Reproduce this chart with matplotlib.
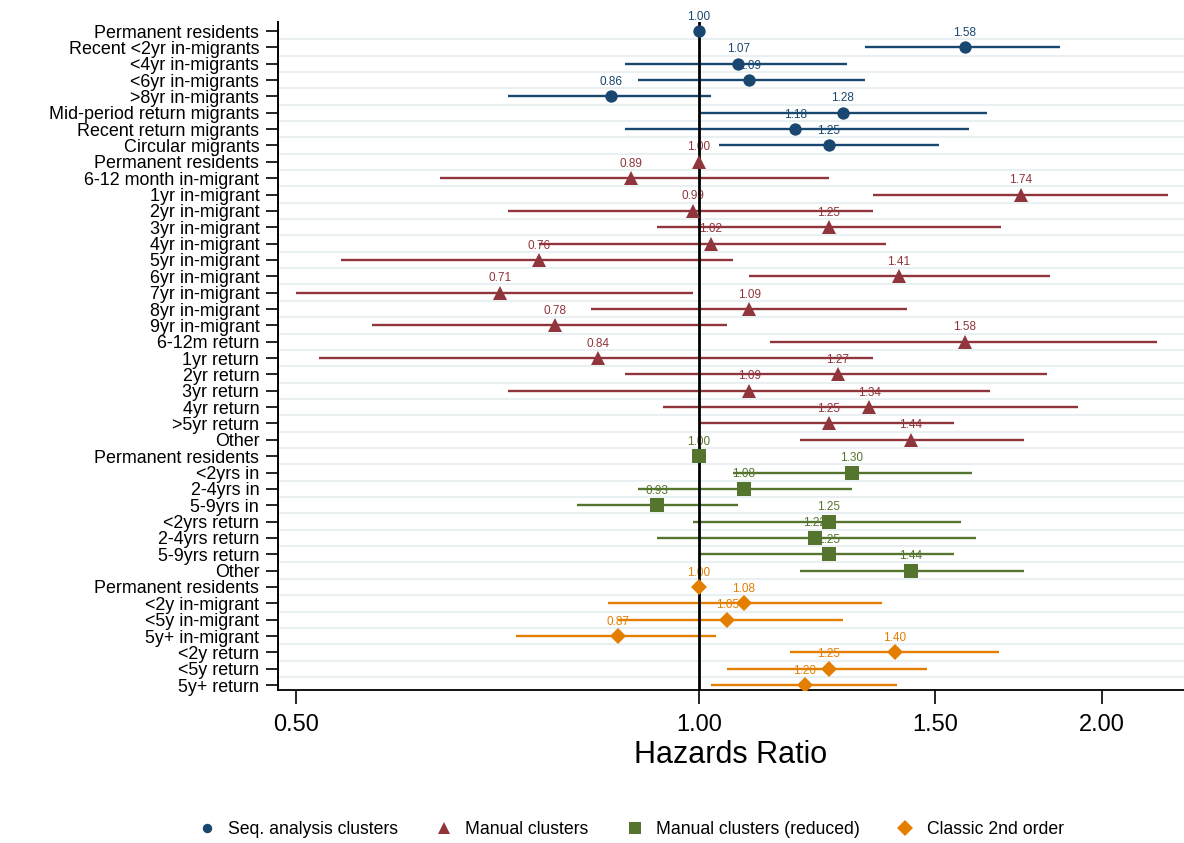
import numpy as np
import matplotlib
matplotlib.use('Agg')
import matplotlib.pyplot as plt
from matplotlib.lines import Line2D
from matplotlib.ticker import NullLocator, FixedLocator

plt.rcParams['font.family'] = ['Liberation Sans', 'DejaVu Sans']

nan = np.nan

# ---- Data ----
labels_seq = ["Permanent residents", "Recent <2yr in-migrants", "<4yr in-migrants",
              "<6yr in-migrants", ">8yr in-migrants", "Mid-period return migrants",
              "Recent return migrants", "Circular migrants"]
hr_seq = [1.00, 1.58, 1.07, 1.09, 0.86, 1.28, 1.18, 1.25]
lo_seq = [nan, 1.33, 0.88, 0.90, 0.72, 1.00, 0.88, 1.035]
hi_seq = [nan, 1.86, 1.29, 1.33, 1.02, 1.64, 1.59, 1.51]

labels_man = ["Permanent residents", "6-12 month in-migrant", "1yr in-migrant", "2yr in-migrant",
              "3yr in-migrant", "4yr in-migrant", "5yr in-migrant", "6yr in-migrant",
              "7yr in-migrant", "8yr in-migrant", "9yr in-migrant", "6-12m return",
              "1yr return", "2yr return", "3yr return", "4yr return", ">5yr return", "Other"]
hr_man = [1.00, 0.89, 1.74, 0.99, 1.25, 1.02, 0.76, 1.41, 0.71, 1.09, 0.78, 1.58,
          0.84, 1.27, 1.09, 1.34, 1.25, 1.44]
lo_man = [nan, 0.64, 1.35, 0.72, 0.93, 0.76, 0.54, 1.09, 0.50, 0.83, 0.57, 1.13,
          0.52, 0.88, 0.72, 0.94, 1.00, 1.19]
hi_man = [nan, 1.25, 2.24, 1.35, 1.68, 1.38, 1.06, 1.83, 0.99, 1.43, 1.05, 2.20,
          1.35, 1.82, 1.65, 1.92, 1.55, 1.75]

labels_red = ["Permanent residents", "<2yrs in", "2-4yrs in", "5-9yrs in",
              "<2yrs return", "2-4yrs return", "5-9yrs return", "Other"]
hr_red = [1.00, 1.30, 1.08, 0.93, 1.25, 1.22, 1.25, 1.44]
lo_red = [nan, 1.06, 0.90, 0.81, 0.99, 0.93, 1.00, 1.19]
hi_red = [nan, 1.60, 1.30, 1.07, 1.57, 1.61, 1.55, 1.75]

labels_cls = ["Permanent residents", "<2y in-migrant", "<5y in-migrant", "5y+ in-migrant",
              "<2y return", "<5y return", "5y+ return"]
hr_cls = [1.00, 1.08, 1.05, 0.87, 1.40, 1.25, 1.20]
lo_cls = [nan, 0.855, 0.87, 0.73, 1.17, 1.05, 1.02]
hi_cls = [nan, 1.37, 1.28, 1.03, 1.675, 1.48, 1.405]

series_names = ["Seq. analysis clusters", "Manual clusters", "Manual clusters (reduced)", "Classic 2nd order"]
x_ticks = [0.5, 1.0, 1.5, 2.0]
x_ticklabels = ["0.50", "1.00", "1.50", "2.00"]

# ---- Styles ----
colors = ['#1a476f', '#90353b', '#55752f', '#e37e00']
markers = ['o', '^', 's', 'D']
msizes = [8.9, 9.6, 9.4, 8.5]

groups = [(labels_seq, hr_seq, lo_seq, hi_seq),
          (labels_man, hr_man, lo_man, hi_man),
          (labels_red, hr_red, lo_red, hi_red),
          (labels_cls, hr_cls, lo_cls, hi_cls)]

fig = plt.figure(figsize=(11.84, 8.43), dpi=100)
ax = fig.add_axes([278/1184, 1-690/843, 1-278/1184, (690-21.7)/843])
ax.set_xscale('log', base=2)

all_labels = []
y0 = 0
for gi, (labs, hr, lo, hi) in enumerate(groups):
    c = colors[gi]
    ys = np.arange(y0, y0 + len(labs))
    for y, l, u in zip(ys, lo, hi):
        if not (np.isnan(l) or np.isnan(u)):
            ax.plot([l, u], [y, y], color=c, lw=1.7, zorder=3, solid_capstyle='butt')
    ax.plot(hr, ys, ls='none', marker=markers[gi], ms=msizes[gi], color=c, mec=c, mew=0, zorder=6)
    for y, h in zip(ys, hr):
        ax.annotate(f"{h:.2f}", (h, y), xytext=(0, 10.4), textcoords='offset points',
                    ha='center', va='center', fontsize=8.5, color=c, zorder=2)
    all_labels += labs
    y0 += len(labs)

n = len(all_labels)
for k in range(n - 1):
    ax.axhline(k + 0.5, color='#e8f0f2', lw=1.5, zorder=0.5)

ax.axvline(1.0, color='black', lw=2.0, zorder=4)

ax.set_xlim(0.4847, 2.303)
ax.set_ylim(n - 1 + 0.3, -0.57)

ax.set_yticks(range(n))
ax.set_yticklabels(all_labels, fontsize=12.9)
ax.tick_params(axis='y', length=8.5, width=1.2, pad=5)

ax.xaxis.set_major_locator(FixedLocator(x_ticks))
ax.xaxis.set_minor_locator(NullLocator())
ax.set_xticklabels(x_ticklabels, fontsize=17)
ax.tick_params(axis='x', length=10, width=1.2, pad=7)
ax.set_xlabel("Hazards Ratio", fontsize=22, labelpad=3)

for s in ['top', 'right']:
    ax.spines[s].set_visible(False)
ax.spines['left'].set_linewidth(1.4)
ax.spines['bottom'].set_linewidth(1.3)

handles = [Line2D([], [], ls='none', marker=markers[i], color=colors[i], mew=0,
                  ms=[6.8, 8.6, 8.9, 8.5][i]) for i in range(4)]
fig.legend(handles, series_names, loc='center', bbox_to_anchor=(631/1184, 1-830/843),
           ncol=4, frameon=False, fontsize=12.7, handlelength=1.0, handletextpad=0.7,
           columnspacing=2.1, borderpad=0, borderaxespad=0)

fig.savefig('out.png', dpi=100)
